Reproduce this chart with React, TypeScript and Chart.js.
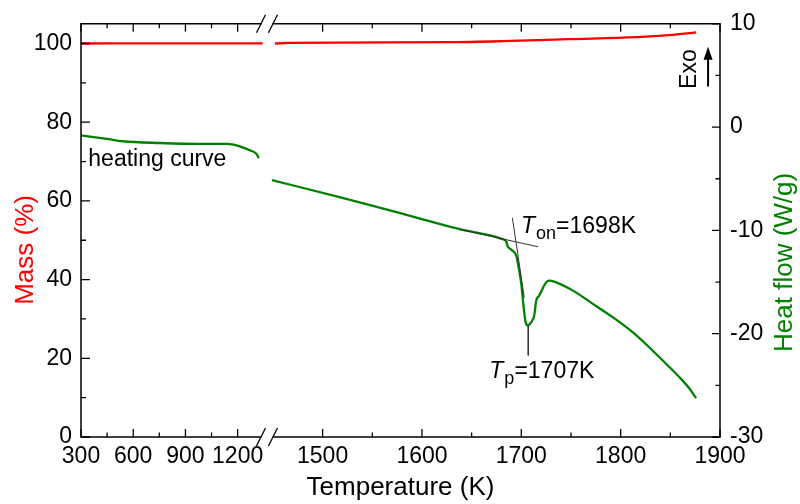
import React, { useEffect, useRef } from "react";
import { Chart, registerables } from "chart.js";

Chart.register(...registerables);

const FONT = '"Liberation Sans", Arial, Helvetica, sans-serif';

// ---- axis ticks ----
const X_TICK_LABELS = [300, 600, 900, 1200, 1500, 1600, 1700, 1800, 1900];
const X_MINOR = [450, 750, 1050, 1550, 1650, 1750, 1850];
const MASS_TICKS = [0, 20, 40, 60, 80, 100];
const MASS_MINOR = [10, 30, 50, 70, 90];
const HEAT_TICKS = [-30, -20, -10, 0, 10];
const HEAT_MINOR = [-25, -15, -5, 5];

// ---- mass (%) ----
const MASS_LEFT_T = [300, 780, 1344];
const MASS_LEFT = [100.0, 100.05, 100.05];
const MASS_RIGHT_T = [1452, 1467, 1628, 1681, 1748, 1816, 1849, 1876];
const MASS_RIGHT = [100.0, 100.15, 100.33, 100.58, 101.09, 101.6, 102.1, 102.8];

// ---- heat flow (W/g) ----
const HEAT_LEFT_T = [300, 450, 541, 753, 983, 1138, 1212, 1270, 1310, 1321];
const HEAT_LEFT = [-0.8, -1.15, -1.37, -1.54, -1.63, -1.63, -1.86, -2.24, -2.63, -3.01];
const HEAT_RIGHT_T = [1449, 1517, 1564, 1638, 1681, 1685, 1686, 1690, 1695, 1697, 1700, 1702, 1704, 1706, 1710, 1713, 1715, 1718, 1725, 1728, 1733, 1752, 1772, 1792, 1812, 1825, 1849, 1859, 1869, 1876];
const HEAT_RIGHT = [-5.13, -6.78, -7.96, -9.88, -10.85, -11.11, -11.49, -11.88, -12.46, -13.42, -15.19, -17.11, -18.72, -19.2, -18.89, -18.24, -16.8, -16.31, -15.03, -14.87, -14.96, -15.83, -17.11, -18.4, -19.85, -20.97, -23.22, -24.19, -25.28, -26.24];

// ---- annotation lines (heat flow units) ----
const TAN_BASE_T = [1638, 1717];
const TAN_BASE = [-9.9, -11.59];
const TAN_STEEP_T = [1691, 1703];
const TAN_STEEP = [-8.77, -16.51];
const TP_LINE_T = [1707, 1707];
const TP_LINE = [-19.2, -22.1];

// broken x axis: left segment compressed
const X0_U = 1256.8;
const COMPRESS = 0.1752;
const toU = (t: number) => (t <= 1400 ? X0_U + (t - 300) * COMPRESS : t);
const BREAK_U = 1444;
const X_TICK_U = X_TICK_LABELS.map(toU);

const pts = (ts: number[], vs: number[]) => ts.map((t, i) => ({ x: toU(t), y: vs[i] }));

const decor = {
  id: "decor",
  afterDatasetsDraw(chart: any) {
    const ctx = chart.ctx as CanvasRenderingContext2D;
    const { left, right, top, bottom } = chart.chartArea;
    const xs = chart.scales.x;
    const ys = chart.scales.y;
    const y1 = chart.scales.y1;
    ctx.save();
    ctx.strokeStyle = "#000";
    ctx.lineWidth = 1.5;
    ctx.lineCap = "square";
    const c = xs.getPixelForValue(BREAK_U);
    const g = 6;
    ctx.beginPath();
    ctx.moveTo(left, top); ctx.lineTo(left, bottom);
    ctx.moveTo(right, top); ctx.lineTo(right, bottom);
    ctx.moveTo(left, top); ctx.lineTo(c - g, top);
    ctx.moveTo(c + g, top); ctx.lineTo(right, top);
    ctx.moveTo(left, bottom); ctx.lineTo(c - g, bottom);
    ctx.moveTo(c + g, bottom); ctx.lineTo(right, bottom);
    ctx.stroke();
    ctx.lineCap = "butt";
    ctx.lineWidth = 1.3;
    ctx.beginPath();
    for (const yy of [top, bottom]) {
      for (const cx of [c - g, c + g]) {
        ctx.moveTo(cx - 4.5, yy + 9);
        ctx.lineTo(cx + 4.5, yy - 9);
      }
    }
    ctx.stroke();
    // ticks
    ctx.lineWidth = 1.3;
    ctx.beginPath();
    const xt = (vals: number[], len: number) => {
      for (const v of vals) {
        const px = xs.getPixelForValue(toU(v));
        ctx.moveTo(px, bottom); ctx.lineTo(px, bottom - len);
        ctx.moveTo(px, top); ctx.lineTo(px, top + len);
      }
    };
    xt(X_TICK_LABELS, 8);
    xt(X_MINOR, 4.5);
    for (const v of MASS_TICKS) { const p = ys.getPixelForValue(v); ctx.moveTo(left, p); ctx.lineTo(left + 9, p); }
    for (const v of MASS_MINOR) { const p = ys.getPixelForValue(v); ctx.moveTo(left, p); ctx.lineTo(left + 5, p); }
    for (const v of HEAT_TICKS) { const p = y1.getPixelForValue(v); ctx.moveTo(right, p); ctx.lineTo(right - 8, p); }
    for (const v of HEAT_MINOR) { const p = y1.getPixelForValue(v); ctx.moveTo(right, p); ctx.lineTo(right - 4.5, p); }
    ctx.stroke();

    // axis titles
    ctx.fillStyle = "#000";
    ctx.font = `26px ${FONT}`;
    ctx.textAlign = "center";
    ctx.textBaseline = "alphabetic";
    ctx.fillText("Temperature (K)", (left + right) / 2, 495);

    ctx.save();
    ctx.translate(33, (top + bottom) / 2 + 19.5);
    ctx.rotate(-Math.PI / 2);
    ctx.fillStyle = "#ff0000";
    ctx.fillText("Mass (%)", 0, 0);
    ctx.restore();

    ctx.save();
    ctx.translate(792, (top + bottom) / 2 + 32);
    ctx.rotate(-Math.PI / 2);
    ctx.fillStyle = "#008000";
    ctx.fillText("Heat flow (W/g)", 0, 0);
    ctx.restore();

    // heating curve
    ctx.fillStyle = "#000";
    ctx.font = `23px ${FONT}`;
    ctx.textAlign = "left";
    ctx.fillText("heating curve", xs.getPixelForValue(toU(342)), ys.getPixelForValue(68.9));

    // Exo + arrow
    const ex = xs.getPixelForValue(1876);
    const ey = y1.getPixelForValue(5.61);
    ctx.save();
    ctx.translate(ex, ey);
    ctx.rotate(-Math.PI / 2);
    ctx.textAlign = "center";
    ctx.fillText("Exo", 0, 0);
    ctx.restore();
    const ax = xs.getPixelForValue(1888);
    const aBot = y1.getPixelForValue(3.93);
    const aTop = y1.getPixelForValue(7.78);
    ctx.lineWidth = 2;
    ctx.beginPath();
    ctx.moveTo(ax, aBot);
    ctx.lineTo(ax, aTop + 10);
    ctx.stroke();
    ctx.beginPath();
    ctx.moveTo(ax, aTop);
    ctx.lineTo(ax - 4.5, aTop + 13);
    ctx.lineTo(ax + 4.5, aTop + 13);
    ctx.closePath();
    ctx.fill();

    // T labels
    const sub = (x: number, y: number, s: string, rest: string) => {
      ctx.textAlign = "left";
      ctx.font = `italic 23px ${FONT}`;
      ctx.fillText("T", x, y);
      let w = ctx.measureText("T").width;
      ctx.font = `18px ${FONT}`;
      ctx.fillText(s, x + w + 1, y + 6);
      w += 1 + ctx.measureText(s).width;
      ctx.font = `23px ${FONT}`;
      ctx.fillText(rest, x + w, y);
    };
    sub(xs.getPixelForValue(1699.7), y1.getPixelForValue(-10.24), "on", "=1698K");
    sub(xs.getPixelForValue(1667.8), y1.getPixelForValue(-24.31), "p", "=1707K");
    ctx.restore();
  },
};

export default function App() {
  const ref = useRef<HTMLCanvasElement | null>(null);
  useEffect(() => {
    if (!ref.current) return;
    const lineDs = (data: any[], color: string, axis: string, width: number, order: number, smooth: boolean) => ({
      data,
      borderColor: color,
      backgroundColor: color,
      borderWidth: width,
      showLine: true,
      pointRadius: 0,
      cubicInterpolationMode: smooth ? "monotone" : "default",
      tension: smooth ? 0.4 : 0,
      yAxisID: axis,
      order,
    });
    const chart = new Chart(ref.current, {
      type: "scatter",
      data: {
        datasets: [
          lineDs(pts(TAN_BASE_T, TAN_BASE), "#333333", "y1", 1, 0, false),
          lineDs(pts(TAN_STEEP_T, TAN_STEEP), "#333333", "y1", 1, 0, false),
          lineDs(pts(TP_LINE_T, TP_LINE), "#333333", "y1", 1, 0, false),
          lineDs(pts(HEAT_LEFT_T, HEAT_LEFT), "#008000", "y1", 2.3, 1, true),
          lineDs(pts(HEAT_RIGHT_T, HEAT_RIGHT), "#008000", "y1", 2.3, 1, true),
          lineDs(pts(MASS_LEFT_T, MASS_LEFT), "#ff0000", "y", 2.3, 2, true),
          lineDs(pts(MASS_RIGHT_T, MASS_RIGHT), "#ff0000", "y", 2.3, 2, true),
        ],
      },
      options: {
        animation: false,
        responsive: false,
        devicePixelRatio: 1,
        layout: { padding: { top: 22, left: 0, right: 0, bottom: 0 } },
        plugins: { legend: { display: false }, tooltip: { enabled: false } },
        scales: {
          x: {
            type: "linear",
            position: "bottom",
            min: X0_U,
            max: 1900,
            grid: { display: false, drawTicks: false },
            border: { display: false },
            afterBuildTicks: (s: any) => { s.ticks = X_TICK_U.map((v) => ({ value: v })); },
            afterFit: (s: any) => { s.height = 67; },
            ticks: {
              autoSkip: false,
              maxRotation: 0,
              padding: 6,
              color: "#000",
              font: { family: FONT, size: 23 },
              callback: (_v: any, i: number) => String(X_TICK_LABELS[i]),
            },
          },
          y: {
            type: "linear",
            position: "left",
            min: 0,
            max: 105,
            grid: { display: false, drawTicks: false },
            border: { display: false },
            afterBuildTicks: (s: any) => { s.ticks = MASS_TICKS.map((v) => ({ value: v })); },
            afterFit: (s: any) => { s.width = 81; },
            ticks: {
              padding: 9,
              color: "#000",
              font: { family: FONT, size: 23 },
              callback: (v: any) => String(v),
            },
          },
          y1: {
            type: "linear",
            position: "right",
            min: -30,
            max: 10,
            grid: { display: false, drawTicks: false },
            border: { display: false },
            afterBuildTicks: (s: any) => { s.ticks = HEAT_TICKS.map((v) => ({ value: v })); },
            afterFit: (s: any) => { s.width = 80; },
            ticks: {
              padding: 10,
              color: "#000",
              font: { family: FONT, size: 23 },
              callback: (v: any) => (v < 0 ? "-" + Math.abs(v) : String(v)),
            },
          },
        },
      },
      plugins: [decor],
    } as any);
    return () => chart.destroy();
  }, []);
  return (
    <div style={{ position: "absolute", left: 0, top: 0, width: 800, height: 504, background: "#fff" }}>
      <canvas ref={ref} width={800} height={504} style={{ display: "block" }} />
    </div>
  );
}
